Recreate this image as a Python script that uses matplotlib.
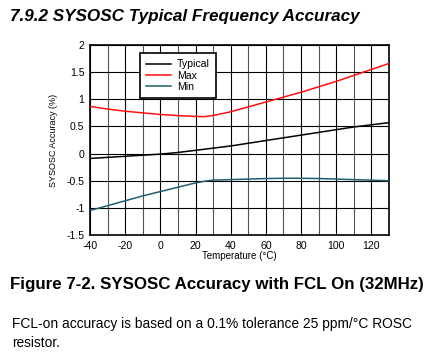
import numpy as np
import matplotlib.pyplot as plt

plt.rcParams['font.family'] = ['Liberation Sans', 'DejaVu Sans']
plt.rcParams['axes.unicode_minus'] = False

# temperatures (°C) and accuracy (%)
temp = [-40, -30, -20, -10, 0, 10, 20, 25, 30, 40, 50, 60, 70, 80, 90, 100, 110, 120, 130]
typical = [-0.09, -0.07, -0.05, -0.03, -0.01, 0.02, 0.06, 0.08, 0.10, 0.14, 0.19, 0.24, 0.29, 0.34, 0.39, 0.44, 0.49, 0.53, 0.57]
maximum = [0.87, 0.82, 0.78, 0.75, 0.72, 0.70, 0.685, 0.68, 0.70, 0.77, 0.86, 0.95, 1.04, 1.13, 1.23, 1.33, 1.44, 1.55, 1.66]
minimum = [-1.05, -0.96, -0.87, -0.78, -0.70, -0.62, -0.54, -0.51, -0.49, -0.48, -0.47, -0.46, -0.455, -0.455, -0.46, -0.47, -0.48, -0.49, -0.50]

xticks = [-40, -20, 0, 20, 40, 60, 80, 100, 120]
yticks = [-1.5, -1, -0.5, 0, 0.5, 1, 1.5, 2]
ytick_labels = ['-1.5', '-1', '-0.5', '0', '0.5', '1', '1.5', '2']

fig = plt.figure(figsize=(4.26, 3.57), dpi=100)
ax = fig.add_axes([90 / 426, 122 / 357, 299 / 426, 190 / 357])

ax.plot(temp, typical, color='black', lw=1.1, label='Typical', zorder=3)
ax.plot(temp, maximum, color='#ff1010', lw=1.1, label='Max', zorder=3)
ax.plot(temp, minimum, color='#1e5f70', lw=1.1, label='Min', zorder=3)

ax.set_xlim(-40, 130)
ax.set_ylim(-1.5, 2)
ax.set_xticks(xticks)
ax.set_xticks(np.arange(-30, 130, 20), minor=True)
ax.set_yticks(yticks)
ax.set_yticklabels(ytick_labels)
ax.grid(True, which='major', color='black', lw=0.8)
ax.grid(True, which='minor', axis='x', color='#555555', lw=0.8)
ax.tick_params(which='both', length=0, labelsize=7.6, pad=4)
for s in ax.spines.values():
    s.set_linewidth(1.2)

ax.set_xlabel('Temperature (°C)', fontsize=7, labelpad=0)
ax.set_ylabel('SYSOSC Accuracy (%)', fontsize=6.5, labelpad=6)

leg = ax.legend(loc='upper left', bbox_to_anchor=(0.167, 0.958), fontsize=7.6,
                fancybox=False, framealpha=1, handlelength=2.3, borderaxespad=0,
                borderpad=0.6, labelspacing=0.12, handletextpad=0.6)
leg.get_frame().set_edgecolor('black')
leg.get_frame().set_linewidth(1.2)

fig.text(10 / 426, 1 - 16 / 357, '7.9.2 SYSOSC Typical Frequency Accuracy',
         fontsize=12.3, fontweight='bold', fontstyle='italic', va='center', ha='left')
fig.text(10 / 426, 1 - 285 / 357, 'Figure 7-2. SYSOSC Accuracy with FCL On (32MHz)',
         fontsize=12.2, fontweight='bold', va='center', ha='left')
fig.text(12 / 426, 1 - 324 / 357, 'FCL-on accuracy is based on a 0.1% tolerance 25 ppm/°C ROSC',
         fontsize=9.9, va='center', ha='left')
fig.text(12 / 426, 1 - 343 / 357, 'resistor.',
         fontsize=9.9, va='center', ha='left')

fig.savefig('out.png', dpi=100)
